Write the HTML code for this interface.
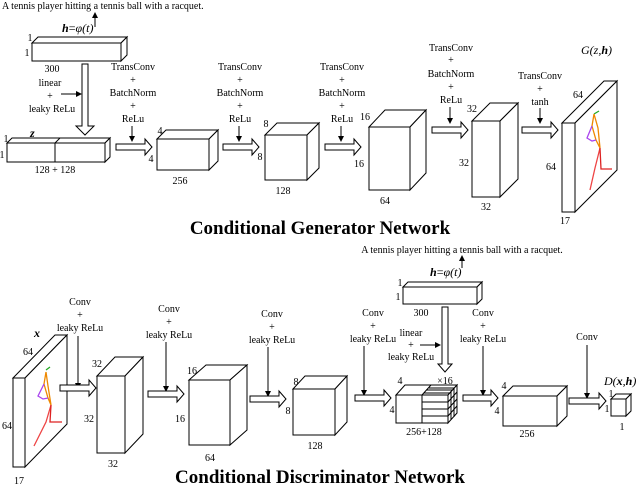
<!DOCTYPE html>
<html><head><meta charset="utf-8"><style>
html,body{margin:0;padding:0;background:#fff;}
svg{display:block;font-family:"Liberation Serif",serif;}
.t{font-size:10px;text-anchor:middle;fill:#000;}
.b{fill:#fff;stroke:#000;stroke-width:1;}
.l{stroke:#000;stroke-width:1;fill:none;}
</style></head><body>
<svg width="640" height="486" viewBox="0 0 640 486" xmlns="http://www.w3.org/2000/svg">
<defs><marker id="ah" markerWidth="6" markerHeight="6" refX="5" refY="3" orient="auto"><path d="M0,0 L6,3 L0,6 Z" fill="#000"/></marker></defs>

<!-- ===== Generator ===== -->
<text x="2" y="9" style="font-size:10px">A tennis player hitting a tennis ball with a racquet.</text>
<line class="l" x1="95" y1="27" x2="95" y2="13" marker-end="url(#ah)"/>
<text x="62" y="32" style="font-size:12px"><tspan font-weight="bold" font-style="italic">h</tspan>=<tspan font-style="italic">φ(t)</tspan></text>
<g class="b"><rect x="32" y="43" width="89" height="18"/><polygon points="32,43 38,37 127,37 121,43"/><polygon points="121,43 127,37 127,55 121,61"/></g>
<text class="t" x="30" y="41">1</text><text class="t" x="27" y="56">1</text><text class="t" x="52" y="72">300</text>
<text class="t" x="50" y="86">linear</text><text class="t" x="50" y="99">+</text><text class="t" x="52" y="112">leaky ReLu</text>
<line class="l" x1="61" y1="94" x2="81" y2="94" marker-end="url(#ah)"/>
<polygon class="b" points="82,64 88,64 88,126 94,126 85,135 76,126 82,126"/>
<g class="b"><rect x="7" y="143" width="98" height="19"/><polygon points="7,143 12,138 110,138 105,143"/><polygon points="105,143 110,138 110,157 105,162"/></g>
<line class="l" x1="55" y1="143" x2="55" y2="162"/><line class="l" x1="55" y1="143" x2="60" y2="138"/>
<text x="30" y="137" style="font-size:12px;font-weight:bold;font-style:italic">z</text>
<text class="t" x="6" y="142">1</text><text class="t" x="2" y="158">1</text><text class="t" x="55" y="173">128  +  128</text>

<text class="t" x="133" y="70">TransConv</text><text class="t" x="133" y="83">+</text><text class="t" x="133" y="96">BatchNorm</text><text class="t" x="133" y="109">+</text><text class="t" x="133" y="122">ReLu</text>
<line class="l" x1="132" y1="126" x2="132" y2="141" marker-end="url(#ah)"/>
<polygon class="b" points="116,144 145,144 145,139 152,147 145,155 145,150 116,150"/>
<g class="b"><rect x="157" y="139" width="52" height="31"/><polygon points="157,139 166,130 218,130 209,139"/><polygon points="209,139 218,130 218,161 209,170"/></g>
<text class="t" x="160" y="134">4</text><text class="t" x="151" y="162">4</text><text class="t" x="180" y="184">256</text>

<text class="t" x="240" y="70">TransConv</text><text class="t" x="240" y="83">+</text><text class="t" x="240" y="96">BatchNorm</text><text class="t" x="240" y="109">+</text><text class="t" x="240" y="122">ReLu</text>
<line class="l" x1="239" y1="126" x2="239" y2="141" marker-end="url(#ah)"/>
<polygon class="b" points="223,144 252,144 252,139 259,147 252,155 252,150 223,150"/>
<g class="b"><rect x="265" y="135" width="42" height="45"/><polygon points="265,135 277,123 319,123 307,135"/><polygon points="307,135 319,123 319,168 307,180"/></g>
<text class="t" x="266" y="127">8</text><text class="t" x="260" y="160">8</text><text class="t" x="283" y="194">128</text>

<text class="t" x="342" y="70">TransConv</text><text class="t" x="342" y="83">+</text><text class="t" x="342" y="96">BatchNorm</text><text class="t" x="342" y="109">+</text><text class="t" x="342" y="122">ReLu</text>
<line class="l" x1="341" y1="126" x2="341" y2="141" marker-end="url(#ah)"/>
<polygon class="b" points="325,144 354,144 354,139 361,147 354,155 354,150 325,150"/>
<g class="b"><rect x="369" y="127" width="41" height="63"/><polygon points="369,127 385,110 426,110 410,127"/><polygon points="410,127 426,110 426,173 410,190"/></g>
<text class="t" x="365" y="120">16</text><text class="t" x="359" y="167">16</text><text class="t" x="385" y="204">64</text>

<text class="t" x="451" y="51">TransConv</text><text class="t" x="451" y="63">+</text><text class="t" x="451" y="77">BatchNorm</text><text class="t" x="451" y="90">+</text><text class="t" x="451" y="103">ReLu</text>
<line class="l" x1="450" y1="107" x2="450" y2="123" marker-end="url(#ah)"/>
<polygon class="b" points="432,127 461,127 461,122 468,130 461,138 461,133 432,133"/>
<g class="b"><rect x="472" y="121" width="28" height="76"/><polygon points="472,121 490,103 518,103 500,121"/><polygon points="500,121 518,103 518,179 500,197"/></g>
<text class="t" x="472" y="112">32</text><text class="t" x="464" y="166">32</text><text class="t" x="486" y="210">32</text>

<text class="t" x="540" y="79">TransConv</text><text class="t" x="540" y="92">+</text><text class="t" x="540" y="105">tanh</text>
<line class="l" x1="540" y1="108" x2="540" y2="123" marker-end="url(#ah)"/>
<polygon class="b" points="522,127 551,127 551,122 558,130 551,138 551,133 522,133"/>
<g class="b"><rect x="562" y="123" width="13" height="89"/><polygon points="562,123 604,81 617,81 575,123"/><polygon points="575,123 617,81 617,170 575,212"/></g>
<text x="581" y="54" style="font-size:12px;font-style:italic">G(z,<tspan font-weight="bold">h</tspan>)</text>
<text class="t" x="578" y="98">64</text><text class="t" x="551" y="170">64</text><text class="t" x="565" y="224">17</text>
<g stroke-width="1.3" fill="none">
<path d="M594,114 L599,111" stroke="#2a2"/><path d="M594,114 L592,126 L596,140 L600,148 L598,128 L594,114" stroke="#e80"/>
<path d="M592,126 L587,138 L592,141 L596,140" stroke="#a4e"/>
<path d="M600,148 L595,168 L590,190" stroke="#e44"/><path d="M600,148 L601,169 L612,169" stroke="#d22"/>
</g>

<text x="320" y="234" style="font-size:19px;font-weight:bold;text-anchor:middle">Conditional Generator Network</text>

<!-- ===== Discriminator ===== -->
<text class="t" x="462" y="253">A tennis player hitting a tennis ball with a racquet.</text>
<line class="l" x1="462" y1="268" x2="462" y2="256" marker-end="url(#ah)"/>
<text x="430" y="276" style="font-size:12px"><tspan font-weight="bold" font-style="italic">h</tspan>=<tspan font-style="italic">φ(t)</tspan></text>
<g class="b"><rect x="403" y="287" width="74" height="17"/><polygon points="403,287 408,282 482,282 477,287"/><polygon points="477,287 482,282 482,299 477,304"/></g>
<text class="t" x="400" y="286">1</text><text class="t" x="398" y="300">1</text><text class="t" x="421" y="316">300</text>
<text class="t" x="411" y="336">linear</text><text class="t" x="411" y="348">+</text><text class="t" x="411" y="360">leaky ReLu</text>
<line class="l" x1="420" y1="345" x2="440" y2="345" marker-end="url(#ah)"/>
<polygon class="b" points="442,307 448,307 448,364 452,364 445,372 438,364 442,364"/>
<text class="t" x="445" y="384">×16</text>

<g class="b"><rect x="13" y="378" width="12" height="89"/><polygon points="13,378 55,335 67,335 25,378"/><polygon points="25,378 67,335 67,424 25,467"/></g>
<text x="34" y="337" style="font-size:12px;font-weight:bold;font-style:italic">x</text>
<text class="t" x="28" y="355">64</text><text class="t" x="7" y="429">64</text><text class="t" x="19" y="484">17</text>
<g stroke-width="1.3" fill="none">
<path d="M46,370 L50,367" stroke="#2a2"/><path d="M46,372 L44,384 L48,398 L51,405 L48,386 L46,372" stroke="#e80"/>
<path d="M44,384 L38,396 L43,399 L48,398" stroke="#a4e"/>
<path d="M51,405 L46,422 L34,446" stroke="#e44"/><path d="M51,405 L50,422 L62,422" stroke="#d22"/>
</g>

<text class="t" x="80" y="305">Conv</text><text class="t" x="80" y="318">+</text><text class="t" x="80" y="331">leaky ReLu</text>
<line class="l" x1="78" y1="336" x2="78" y2="388" marker-end="url(#ah)"/>
<polygon class="b" points="60,385 89,385 89,380 96,388 89,396 89,391 60,391"/>
<g class="b"><rect x="97" y="376" width="28" height="77"/><polygon points="97,376 115,357 143,357 125,376"/><polygon points="125,376 143,357 143,434 125,453"/></g>
<text class="t" x="97" y="367">32</text><text class="t" x="89" y="422">32</text><text class="t" x="113" y="467">32</text>

<text class="t" x="169" y="312">Conv</text><text class="t" x="169" y="325">+</text><text class="t" x="169" y="338">leaky ReLu</text>
<line class="l" x1="166" y1="342" x2="166" y2="391" marker-end="url(#ah)"/>
<polygon class="b" points="148,391 177,391 177,386 184,394 177,402 177,397 148,397"/>
<g class="b"><rect x="189" y="380" width="41" height="65"/><polygon points="189,380 206,365 247,365 230,380"/><polygon points="230,380 247,365 247,430 230,445"/></g>
<text class="t" x="192" y="374">16</text><text class="t" x="180" y="422">16</text><text class="t" x="210" y="461">64</text>

<text class="t" x="272" y="317">Conv</text><text class="t" x="272" y="330">+</text><text class="t" x="272" y="343">leaky ReLu</text>
<line class="l" x1="268" y1="347" x2="268" y2="396" marker-end="url(#ah)"/>
<polygon class="b" points="250,396 279,396 279,391 286,399 279,407 279,402 250,402"/>
<g class="b"><rect x="293" y="389" width="42" height="46"/><polygon points="293,389 305,376 347,376 335,389"/><polygon points="335,389 347,376 347,422 335,435"/></g>
<text class="t" x="296" y="385">8</text><text class="t" x="288" y="414">8</text><text class="t" x="315" y="449">128</text>

<text class="t" x="373" y="316">Conv</text><text class="t" x="373" y="329">+</text><text class="t" x="373" y="342">leaky ReLu</text>
<line class="l" x1="364" y1="346" x2="364" y2="395" marker-end="url(#ah)"/>
<polygon class="b" points="355,395 384,395 384,390 391,398 384,406 384,401 355,401"/>
<g class="b"><rect x="396" y="395" width="52" height="28"/><polygon points="396,395 405,385 457,385 448,395"/><polygon points="448,395 457,385 457,413 448,423"/></g>
<g class="l" stroke-width="0.8">
<line x1="422" y1="395" x2="422" y2="423"/><line x1="422" y1="395" x2="431" y2="385"/>
<line x1="422" y1="402" x2="448" y2="402"/><line x1="422" y1="409" x2="448" y2="409"/><line x1="422" y1="416" x2="448" y2="416"/>
<line x1="424" y1="393" x2="450" y2="393"/><line x1="426" y1="390" x2="452" y2="390"/><line x1="429" y1="388" x2="455" y2="388"/>
<line x1="451" y1="392" x2="451" y2="420"/><line x1="454" y1="389" x2="454" y2="417"/>
<line x1="448" y1="402" x2="457" y2="392"/><line x1="448" y1="409" x2="457" y2="399"/><line x1="448" y1="416" x2="457" y2="406"/>
</g>
<text class="t" x="400" y="384">4</text><text class="t" x="392" y="413">4</text><text class="t" x="424" y="435">256+128</text>

<text class="t" x="483" y="316">Conv</text><text class="t" x="483" y="329">+</text><text class="t" x="483" y="342">leaky ReLu</text>
<line class="l" x1="483" y1="346" x2="483" y2="395" marker-end="url(#ah)"/>
<polygon class="b" points="463,395 491,395 491,390 498,398 491,406 491,401 463,401"/>
<g class="b"><rect x="503" y="396" width="54" height="30"/><polygon points="503,396 513,386 567,386 557,396"/><polygon points="557,396 567,386 567,416 557,426"/></g>
<text class="t" x="504" y="389">4</text><text class="t" x="497" y="414">4</text><text class="t" x="527" y="437">256</text>

<text class="t" x="587" y="340">Conv</text>
<line class="l" x1="587" y1="345" x2="587" y2="398" marker-end="url(#ah)"/>
<polygon class="b" points="569,398 599,398 599,393 606,401 599,409 599,404 569,404"/>
<g class="b"><rect x="611" y="399" width="15" height="17"/><polygon points="611,399 616,394 631,394 626,399"/><polygon points="626,399 631,394 631,411 626,416"/></g>
<text x="604" y="385" style="font-size:12px;font-style:italic">D(<tspan font-weight="bold">x</tspan>,<tspan font-weight="bold">h</tspan>)</text>
<text class="t" x="611" y="397">1</text><text class="t" x="607" y="412">1</text><text class="t" x="622" y="430">1</text>

<text x="320" y="483" style="font-size:19px;font-weight:bold;text-anchor:middle">Conditional Discriminator Network</text>
</svg>
</body></html>
